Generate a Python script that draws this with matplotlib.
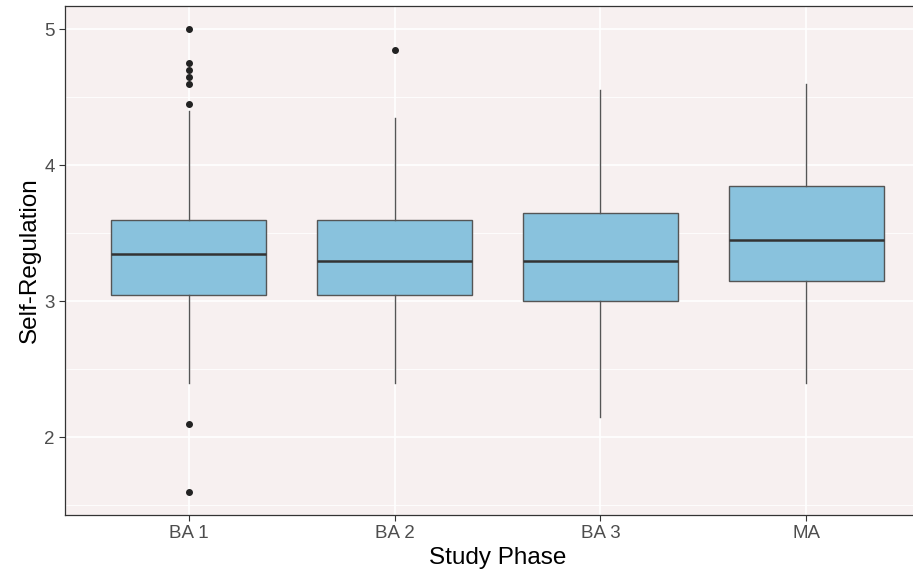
import matplotlib
matplotlib.use("Agg")
import matplotlib.pyplot as plt

categories = ["BA 1", "BA 2", "BA 3", "MA"]
q1 = [3.05, 3.05, 3.00, 3.15]
median = [3.35, 3.30, 3.30, 3.45]
q3 = [3.60, 3.60, 3.65, 3.85]
whislo = [2.40, 2.40, 2.15, 2.40]
whishi = [4.40, 4.35, 4.55, 4.60]
outliers = [
    [5.0, 4.75, 4.70, 4.65, 4.60, 4.45, 2.10, 1.60],
    [4.85],
    [],
    [],
]
y_ticks = [2, 3, 4, 5]

plt.rcParams['font.family'] = ['Liberation Sans', 'DejaVu Sans']

fig = plt.figure(figsize=(9.13, 5.71), dpi=100)
# panel extends slightly past the right edge of the figure (cropped like the reference)
ax = fig.add_axes([65/913, 1 - 515/571, 865/913, 509/571])

stats = []
for i, c in enumerate(categories):
    stats.append(dict(label=c, q1=q1[i], med=median[i], q3=q3[i],
                      whislo=whislo[i], whishi=whishi[i], fliers=outliers[i]))

positions = list(range(1, len(categories) + 1))
ax.bxp(stats, positions=positions, widths=0.75, patch_artist=True, showcaps=False,
       boxprops=dict(facecolor="#89C2DD", edgecolor="#555555", linewidth=1.0),
       medianprops=dict(color="#333333", linewidth=1.8),
       whiskerprops=dict(color="#555555", linewidth=1.0),
       flierprops=dict(marker="o", markersize=4, markerfacecolor="#222222",
                       markeredgecolor="#222222"),
       zorder=3)

ax.set_facecolor("#F7F0F0")
ax.set_xlim(0.4, 4.6)
ax.set_ylim(1.43, 5.17)
ax.set_yticks(y_ticks)
ax.set_yticks([1.5, 2.5, 3.5, 4.5], minor=True)
ax.set_xticks(positions)
ax.set_xticklabels(categories)
ax.grid(True, which="major", color="white", linewidth=1.2, zorder=0)
ax.grid(True, which="minor", axis="y", color="white", linewidth=0.6, zorder=0)
ax.set_axisbelow(True)
ax.tick_params(which="minor", length=0)
ax.tick_params(which="major", length=4, color="#333333", labelsize=13.5, labelcolor="#4D4D4D", width=0.8)
for s in ax.spines.values():
    s.set_color("#333333")
    s.set_linewidth(0.9)

ax.set_xlabel("Study Phase", fontsize=17.5, labelpad=3)
ax.set_ylabel("Self-Regulation", fontsize=17.5, labelpad=2)

fig.savefig("out.png", dpi=100)
